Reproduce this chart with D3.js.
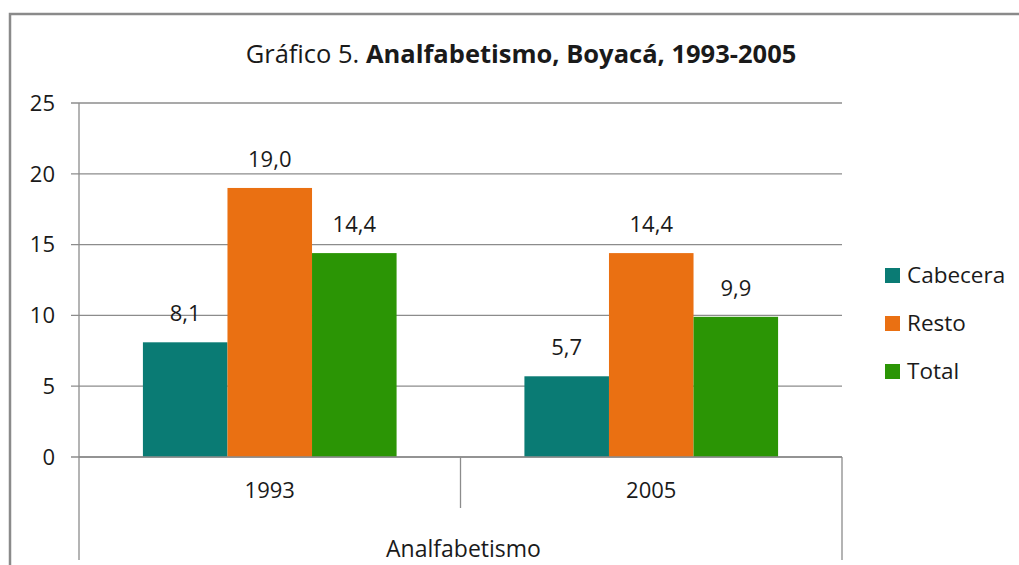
<!DOCTYPE html>
<html><head><meta charset="utf-8">
<script src="https://cdn.jsdelivr.net/npm/d3@7"></script>
<style>body{margin:0;background:#fff}svg{display:block}text{font-family:"Open Sans","Noto Sans",sans-serif;fill:#1a1a1a}</style>
</head><body>
<script>
const categories = ["1993", "2005"];
const seriesNames = ["Cabecera", "Resto", "Total"];
const cabecera = [8.1, 5.7];
const resto = [19.0, 14.4];
const total = [14.4, 9.9];
const yTicks = [0, 5, 10, 15, 20, 25];
const colors = ["#0a7b74", "#ea7012", "#2b9505"];
const values = [cabecera, resto, total];

(function(){
const W = 1019, H = 565;
const svg = d3.select("body").append("svg").attr("width", W).attr("height", H);

// outer frame
svg.append("path").attr("d", `M10,${H+5} L10,14 L${W+5},14`).attr("fill","none").attr("stroke","#8a8a8a").attr("stroke-width",2.5);

const pl = 79, pr = 842, pt = 103, pb = 457;
const y = d3.scaleLinear().domain([0, 25]).range([pb, pt]);
const x0 = d3.scaleBand().domain(categories).range([pl, pr]);
const inner = 254/382;
const x1 = d3.scaleBand().domain(seriesNames).range([0, x0.bandwidth()*inner]);

// gridlines
svg.append("g").selectAll("line").data(yTicks).join("line")
  .attr("x1", pl-8).attr("x2", pr).attr("y1", d=>y(d)).attr("y2", d=>y(d))
  .attr("stroke", "#8c8c8c").attr("stroke-width", 1.3);

// y labels
svg.append("g").selectAll("text").data(yTicks).join("text")
  .attr("x", 55).attr("y", d=>y(d)).attr("dy","0.35em").attr("text-anchor","end")
  .style("font-size","22px").text(d=>d);

// bars
const offset = x0.bandwidth()*(1-inner)/2;
const g = svg.append("g");
categories.forEach((c, ci) => {
  seriesNames.forEach((s, si) => {
    const v = values[si][ci];
    const bx = x0(c) + offset + x1(s);
    g.append("rect").attr("x", bx).attr("y", y(v)).attr("width", x1.bandwidth()).attr("height", pb - y(v)).attr("fill", colors[si]);
    g.append("text").attr("x", bx + x1.bandwidth()/2).attr("y", y(v) - 21).attr("text-anchor","middle")
      .style("font-size","22px").text(d3.format(".1f")(v).replace(".", ","));
  });
});

// axis lines
const ax = (x1_, x2_, y1_, y2_) => svg.append("line").attr("x1",x1_).attr("x2",x2_).attr("y1",y1_).attr("y2",y2_).attr("stroke","#8c8c8c").attr("stroke-width",1.3);
ax(pl, pl, pt, 560);
ax(pl, pr, pb, pb);
ax(x0("2005"), x0("2005"), pb, 508);
ax(pr, pr, pb, 560);

// category labels
svg.append("g").selectAll("text").data(categories).join("text")
  .attr("x", d=>x0(d)+x0.bandwidth()/2).attr("y", 498).attr("text-anchor","middle")
  .style("font-size","22px").text(d=>d);
svg.append("text").attr("x", (pl+pr)/2 + 3).attr("y", 557).attr("text-anchor","middle").style("font-size","23px").text("Analfabetismo");

// title
const t = svg.append("text").attr("x", 521).attr("y", 63).attr("text-anchor","middle").style("font-size","25.5px");
t.append("tspan").text("Gráfico 5. ");
t.append("tspan").style("font-weight","bold").text("Analfabetismo, Boyacá, 1993-2005");

// legend
const lg = svg.append("g");
seriesNames.forEach((s, i) => {
  const ly = 275 + i*48;
  lg.append("rect").attr("x", 885).attr("y", ly-7).attr("width", 15).attr("height", 15).attr("fill", colors[i]);
  lg.append("text").attr("x", 907).attr("y", ly).attr("dy","0.35em").style("font-size","22.5px").text(s);
});
})();
</script>
</body></html>
